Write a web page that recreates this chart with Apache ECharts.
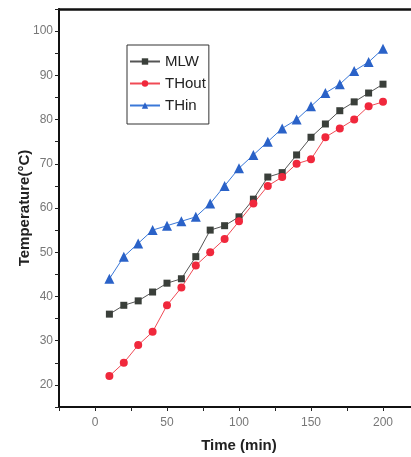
<!DOCTYPE html>
<html>
<head>
<meta charset="utf-8">
<script src="https://cdn.jsdelivr.net/npm/echarts@6/dist/echarts.min.js"></script>
<style>
  html, body { margin: 0; padding: 0; background: #fff; }
  #main { width: 411px; height: 457px; }
</style>
</head>
<body>
<div id="main"></div>
<script>
const times = [10, 20, 30, 40, 50, 60, 70, 80, 90, 100, 110, 120, 130, 140, 150, 160, 170, 180, 190, 200];
const mlw = [36, 38, 39, 41, 43, 44, 49, 55, 56, 58, 62, 67, 68, 72, 76, 79, 82, 84, 86, 88];
const thOut = [22, 25, 29, 32, 38, 42, 47, 50, 53, 57, 61, 65, 67, 70, 71, 76, 78, 80, 83, 84];
const thIn = [44, 49, 52, 55, 56, 57, 58, 61, 65, 69, 72, 75, 78, 80, 83, 86, 88, 91, 93, 96];

const pairs = ys => times.map((t, i) => [t, ys[i]]);
const labelFont = '"Liberation Sans Narrow", "Liberation Sans", Arial, sans-serif';

const chart = echarts.init(document.getElementById('main'));
chart.setOption({
    animation: false,
    backgroundColor: '#fff',
    grid: {
        left: 59, top: 9, width: 360, height: 398,
        outerBoundsMode: 'none',
        containLabel: false,
        show: false
    },
    legend: {
        orient: 'vertical',
        left: 127, top: 45,
        itemWidth: 30, itemHeight: 8, itemGap: 7,
        padding: [9, 3, 11, 2],
        borderColor: '#333', borderWidth: 1,
        textStyle: { fontFamily: labelFont, fontSize: 15, color: '#222' },
        data: ['MLW', 'THout', 'THin']
    },
    xAxis: [{
        type: 'value', min: -25, max: 225, interval: 25,
        name: 'Time (min)', nameLocation: 'middle', nameGap: 31,
        nameTextStyle: { fontFamily: 'Liberation Sans, Arial', fontWeight: 'bold', fontSize: 15, color: '#222' },
        axisLine: { show: true, onZero: false, lineStyle: { color: '#111', width: 2 } },
        axisTick: { show: true, length: 4, lineStyle: { color: '#222' } },
        axisLabel: {
            margin: 10, fontFamily: labelFont, fontSize: 12, color: '#777',
            formatter: v => (v % 50 === 0 ? String(v) : '')
        },
        splitLine: { show: false }
    }, {
        // top frame line only
        type: 'value', position: 'top', min: -25, max: 225,
        axisLine: { show: true, onZero: false, lineStyle: { color: '#111', width: 2.5 } },
        axisTick: { show: false },
        axisLabel: { show: false },
        splitLine: { show: false }
    }],
    yAxis: {
        type: 'value', min: 15, max: 105, interval: 5,
        name: 'Temperature(°C)', nameLocation: 'middle', nameGap: 27,
        nameMoveOverlap: false,
        nameTextStyle: { fontFamily: 'Liberation Sans, Arial', fontWeight: 'bold', fontSize: 15, color: '#222' },
        axisLine: { show: true, onZero: false, lineStyle: { color: '#111', width: 2 } },
        axisTick: { show: true, length: 4, lineStyle: { color: '#222' } },
        axisLabel: {
            margin: 6, fontFamily: labelFont, fontSize: 12, color: '#777',
            formatter: v => (v % 10 === 0 ? String(v) : '')
        },
        splitLine: { show: false }
    },
    series: [
        {
            name: 'MLW', type: 'line', data: pairs(mlw),
            symbol: 'rect', symbolSize: 7,
            itemStyle: { color: '#3a3f3a' },
            lineStyle: { width: 1, color: '#555' }
        },
        {
            name: 'THout', type: 'line', data: pairs(thOut),
            symbol: 'circle', symbolSize: 8,
            itemStyle: { color: '#f0283c' },
            lineStyle: { width: 1, color: '#f04a55' }
        },
        {
            name: 'THin', type: 'line', data: pairs(thIn),
            symbol: 'triangle', symbolSize: 10,
            itemStyle: { color: '#2a62c8' },
            lineStyle: { width: 1, color: '#3a78d8' }
        }
    ]
});
</script>
</body>
</html>
